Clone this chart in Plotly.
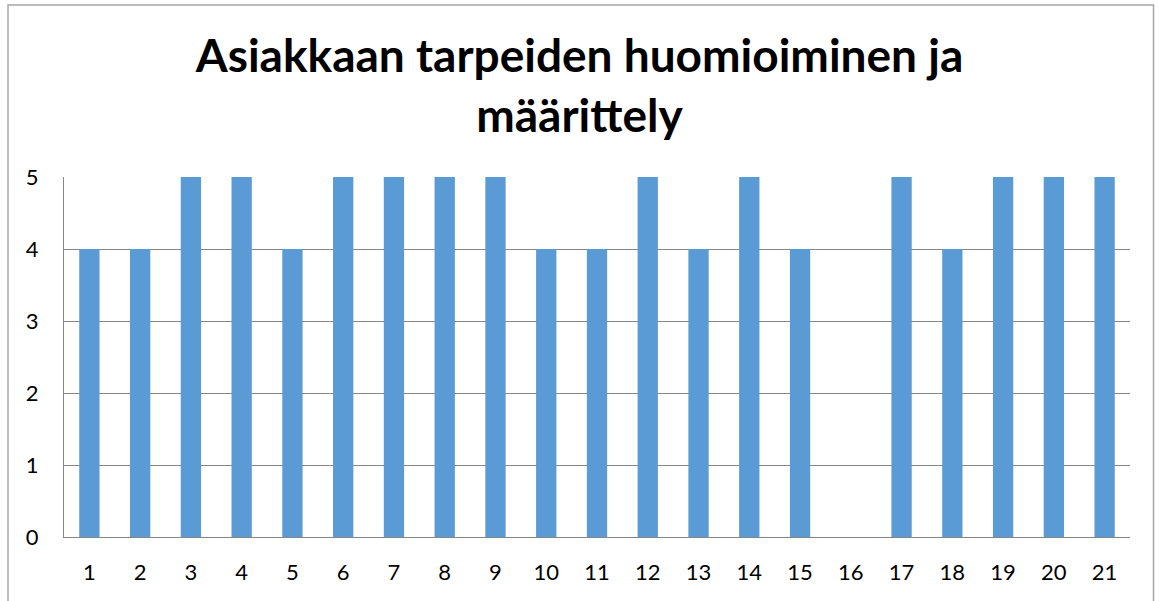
import plotly.graph_objects as go

# Data
categories = [str(i) for i in range(1, 22)]
values = [4, 4, 5, 5, 4, 5, 5, 5, 5, 4, 4, 5, 4, 5, 4, 0, 5, 4, 5, 5, 5]
y_ticks = [0, 1, 2, 3, 4, 5]

W, H = 1159, 601
ml, mr, mt, mb = 64, 29, 177, 64
pw, ph = W - ml - mr, H - mt - mb

fig = go.Figure()
fig.add_trace(go.Bar(x=categories, y=values, marker_color="#5B9BD5",
                     marker_line_width=0, hoverinfo="x+y"))

fig.update_layout(
    width=W, height=H,
    margin=dict(l=ml, r=mr, t=mt, b=mb),
    paper_bgcolor="white", plot_bgcolor="white",
    bargap=0.6, showlegend=False,
    font=dict(family="Lato, Open Sans, sans-serif", color="#000000", size=22),
    title=dict(text="<b>Asiakkaan tarpeiden huomioiminen ja<br>määrittely</b>",
               x=0.5, xanchor="center", y=1 - 72 / H, yanchor="middle",
               font=dict(size=46, family="Lato, Open Sans, sans-serif", color="#000000")),
)
fig.update_xaxes(type="category", showgrid=False, showline=True, linecolor="#868686",
                 linewidth=1, ticks="", ticklabelstandoff=16)
fig.update_yaxes(range=[0, 5], tickvals=y_ticks, showgrid=True, gridcolor="#868686",
                 gridwidth=1, showline=True, linecolor="#868686", linewidth=1,
                 zeroline=False, ticks="", ticklabelstandoff=20)

# outer chart border
x0 = (8 - ml) / pw
x1 = (1153.5 - ml) / pw
y1 = (H - mb - 5) / ph
fig.add_shape(type="rect", xref="paper", yref="paper", x0=x0, x1=x1, y0=-0.5, y1=y1,
              line=dict(color="#A6A6A6", width=1.5), layer="below")

fig.write_html("out.html", config={"displayModeBar": False},
               post_script="document.body.style.margin='0';")
